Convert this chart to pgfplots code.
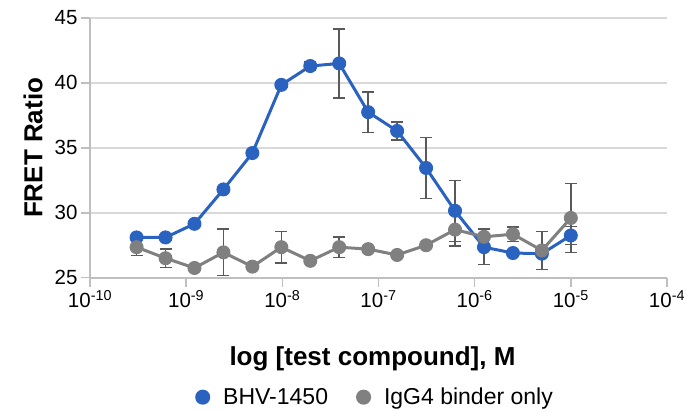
\documentclass[border=0pt]{standalone}
\usepackage{fontspec}
\setmainfont{Liberation Sans}
\usepackage{pgfplots}
\pgfplotsset{compat=1.18}
\definecolor{blueS}{HTML}{2A62C0}
\definecolor{greyS}{HTML}{808080}
\definecolor{errC}{HTML}{595959}
\definecolor{gridC}{HTML}{D9D9D9}
\definecolor{axC}{HTML}{BFBFBF}
\begin{document}
\begin{tikzpicture}[x=1pt,y=1pt]
\path[use as bounding box] (0,0) rectangle (687,411);
\begin{axis}[
  at={(90pt,133.3pt)}, anchor=south west,
  scale only axis, width=577pt, height=259.7pt,
  xmode=log, xmin=1e-10, xmax=1e-4, ymin=25, ymax=45,
  xtick={1e-10,1e-9,1e-8,1e-7,1e-6,1e-5,1e-4},
  xticklabels={10\textsuperscript{-10},10\textsuperscript{-9},10\textsuperscript{-8},10\textsuperscript{-7},10\textsuperscript{-6},10\textsuperscript{-5},10\textsuperscript{-4}},
  ytick={25,30,35,40,45},
  xminorticks=false, yminorticks=false,
  ymajorgrids, major grid style={color=gridC, line width=1.5pt},
  axis x line*=bottom, axis y line*=left,
  axis line style={color=axC, line width=2pt, -},
  tick align=outside, major tick length=9pt,
  tick style={color=axC, line width=1.5pt},
  tick label style={font=\fontsize{20.5}{20.5}\selectfont, text=black},
  /pgf/number format/assume math mode=true,
  xlabel={log [test compound], M},
  ylabel={FRET Ratio},
  xlabel style={font=\bfseries\fontsize{26}{26}\selectfont, at={(axis description cs:0.4896,-0.340)}, anchor=base},
  ylabel style={font=\bfseries\fontsize{26}{26}\selectfont, at={(axis description cs:-0.0988,0.5)}, anchor=center},
  legend columns=2,
  legend style={draw=none, fill=none, font=\fontsize{23}{23}\selectfont,
    at={(axis description cs:0.494,-0.4600)}, anchor=center,
    /tikz/every odd column/.style={column sep=11pt},
    /tikz/every even column/.style={column sep=26pt}},
  legend image code/.code={\fill[#1] (0pt,0pt) circle (6pt);},
  clip=false,
]
\addplot[color=blueS, line width=3pt, mark=*, mark size=6.5pt, mark options={line width=1pt},
  error bars/.cd, y dir=both, y explicit,
  error bar style={color=errC, line width=1.5pt},
  error mark options={rotate=90, mark size=6pt, line width=1.5pt, color=errC}]
table[x=x, y=y, y error=e] {
x y e
3.0518e-10 28.10 0.15
6.1035e-10 28.10 0.15
1.2207e-9 29.15 0.15
2.4414e-9 31.80 0.15
4.8828e-9 34.60 0.15
9.7656e-9 39.85 0.15
1.9531e-8 41.30 0.30
3.9063e-8 41.50 2.65
7.8125e-8 37.75 1.55
1.5625e-7 36.30 0.70
3.125e-7 33.45 2.35
6.25e-7 30.15 2.35
1.25e-6 27.35 1.35
2.5e-6 26.90 0.20
5e-6 26.85 0.20
1e-5 28.25 0.70
};
\addlegendentry{BHV-1450}
\addplot[color=greyS, line width=3pt, mark=*, mark size=6.5pt, mark options={line width=1pt},
  error bars/.cd, y dir=both, y explicit,
  error bar style={color=errC, line width=1.5pt},
  error mark options={rotate=90, mark size=6pt, line width=1.5pt, color=errC}]
table[x=x, y=y, y error=e] {
x y e
3.0518e-10 27.35 0.65
6.1035e-10 26.50 0.70
1.2207e-9 25.75 0.10
2.4414e-9 26.95 1.80
4.8828e-9 25.85 0.15
9.7656e-9 27.35 1.20
1.9531e-8 26.30 0.15
3.9063e-8 27.35 0.80
7.8125e-8 27.20 0.25
1.5625e-7 26.75 0.15
3.125e-7 27.50 0.15
6.25e-7 28.70 1.25
1.25e-6 28.15 0.60
2.5e-6 28.35 0.55
5e-6 27.10 1.45
1e-5 29.60 2.65
};
\addlegendentry{IgG4 binder only}
\end{axis}
\end{tikzpicture}
\end{document}
